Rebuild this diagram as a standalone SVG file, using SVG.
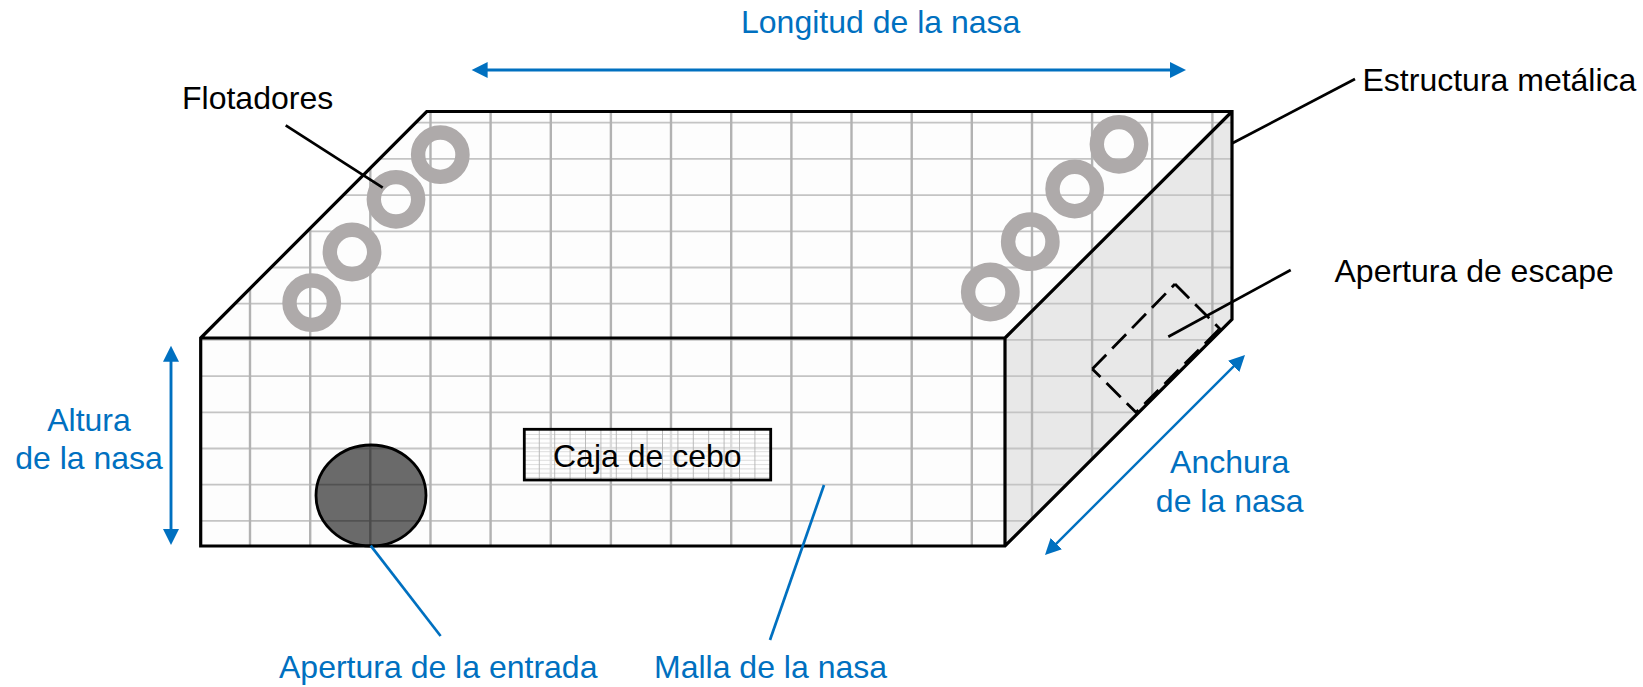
<svg xmlns="http://www.w3.org/2000/svg" width="1643" height="687" viewBox="0 0 1643 687">
<style>
text{font-family:"Liberation Sans",Arial,sans-serif;font-size:32px;fill:#000}
text.b{fill:#0070c0}
text.m{text-anchor:middle}
.edge{fill:none;stroke:#000;stroke-width:3.2;stroke-linejoin:miter}
.hg{fill:none;stroke:#c4c4c4;stroke-width:1.8}
.vg{fill:none;stroke:#b2b2b2;stroke-width:2.4}
.ring{fill:none;stroke:#aeaaaa;stroke-width:14.4}
.dash{fill:none;stroke:#000;stroke-width:2.8;stroke-dasharray:20 8.5}
.lk{fill:none;stroke:#000;stroke-width:2.7}
.lb{fill:none;stroke:#0070c0;stroke-width:2.7}
.dim{fill:none;stroke:#0070c0;stroke-width:2.9;marker-start:url(#ah);marker-end:url(#ah)}
</style>
<defs>
<marker id="ah" markerUnits="userSpaceOnUse" markerWidth="17" markerHeight="16" refX="1" refY="8" orient="auto-start-reverse"><path d="M0,0L16,8L0,16Z" fill="#0070c0"/></marker>
<clipPath id="cage"><path d="M426.7,111.5H1232V319.3L1005,546H200.7V338Z"/></clipPath>
<clipPath id="boxc"><rect x="524.3" y="429.3" width="246.4" height="50.7"/></clipPath>
</defs>
<rect width="1643" height="687" fill="#fff"/>
<g id="nasa">
<path d="M426.7,111.5H1232V319.3L1005,546H200.7V338Z" fill="#fdfdfd"/>
<path d="M1232,111.5V319.3L1005,546V338Z" fill="#e8e8e8"/>
<g clip-path="url(#cage)">
<path class="hg" d="M190,122.7H1240M190,158.9H1240M190,195.1H1240M190,231.3H1240M190,267.5H1240M190,303.7H1240M190,339.9H1240M190,376.1H1240M190,412.3H1240M190,448.5H1240M190,484.7H1240M190,520.9H1240"/>
<path class="vg" d="M250,100V550M310.2,100V550M370.3,100V550M430.5,100V550M490.6,100V550M550.8,100V550M610.9,100V550M671,100V550M731.2,100V550M791.4,100V550M851.5,100V550M911.7,100V550M971.8,100V550M1032,100V550M1092.1,100V550M1152.2,100V550M1212.4,100V550"/>
</g>
<path class="edge" d="M426.7,111.5H1232V319.3L1005,546H200.7V338ZM200.7,338H1005V546M1005,338L1232,111.5"/>
</g>
<g id="flotadores">
<circle class="ring" cx="311.7" cy="302.7" r="22.2"/>
<circle class="ring" cx="352" cy="252" r="22.2"/>
<circle class="ring" cx="396" cy="199.3" r="22.2"/>
<circle class="ring" cx="440.3" cy="154.7" r="22.2"/>
<circle class="ring" cx="990.3" cy="292" r="22.2"/>
<circle class="ring" cx="1030.3" cy="241.7" r="22.2"/>
<circle class="ring" cx="1074.7" cy="189" r="22.2"/>
<circle class="ring" cx="1119" cy="144.3" r="22.2"/>
<text x="182" y="109">Flotadores</text>
</g>
<g id="apertura-entrada">
<ellipse cx="371" cy="495.5" rx="55" ry="50.5" fill="#000" fill-opacity=".58" stroke="#000" stroke-width="2.8"/>
<text class="b" x="279" y="677.7">Apertura de la entrada</text>
</g>
<g id="caja-cebo">
<rect x="524.3" y="429.3" width="246.4" height="50.7" fill="#fff" fill-opacity=".55"/>
<g clip-path="url(#boxc)">
<path d="M524,434.5H771M524,438.8H771M524,443.1H771M524,447.4H771M524,451.7H771M524,456H771M524,460.3H771M524,464.6H771M524,468.9H771M524,473.2H771M524,477.5H771" fill="none" stroke="#d4d4d4" stroke-width=".8"/>
<path d="M539.3,429V480M554.7,429V480M570.1,429V480M585.5,429V480M600.9,429V480M616.3,429V480M631.7,429V480M647.1,429V480M662.5,429V480M677.9,429V480M693.3,429V480M708.7,429V480M724.1,429V480M739.5,429V480M754.9,429V480" fill="none" stroke="#b4b4b4" stroke-width=".9"/>
</g>
<rect x="524.3" y="429.3" width="246.4" height="50.7" fill="none" stroke="#000" stroke-width="2.8"/>
<text x="553" y="467">Caja de cebo</text>
</g>
<g id="apertura-escape">
<path class="dash" d="M1175,284L1220.5,329.5"/>
<path class="dash" d="M1219,329.5L1136,412.5"/>
<path class="dash" style="stroke-dashoffset:6" d="M1136.7,413L1092.3,369"/>
<path class="dash" d="M1092.3,369L1175,284"/>
<text x="1334.5" y="281.7">Apertura de escape</text>
</g>
<g id="etiquetas">
<text x="1362.5" y="91">Estructura metálica</text>
<text class="b" x="741" y="32.7">Longitud de la nasa</text>
<text class="b m" x="89" y="430.7">Altura</text>
<text class="b m" x="89" y="469.3">de la nasa</text>
<text class="b m" x="1229.7" y="473.3">Anchura</text>
<text class="b m" x="1229.7" y="511.7">de la nasa</text>
<text class="b" x="654" y="677.7">Malla de la nasa</text>
</g>
<g id="conectores">
<path class="lk" d="M285.7,125.3L382.7,187.7"/>
<path class="lk" d="M1355,79L1232.3,143.3"/>
<path class="lk" d="M1290.7,270L1168.3,336.7"/>
<path class="lb" d="M370.7,545.7L440.6,636"/>
<path class="lb" d="M770,640L824,485"/>
<path class="dim" d="M486.6,70H1171"/>
<path class="dim" d="M171,360.7V530"/>
<path class="dim" style="stroke-width:2.4" d="M1234.4,365.6L1055.6,544.4"/>
</g>
</svg>
